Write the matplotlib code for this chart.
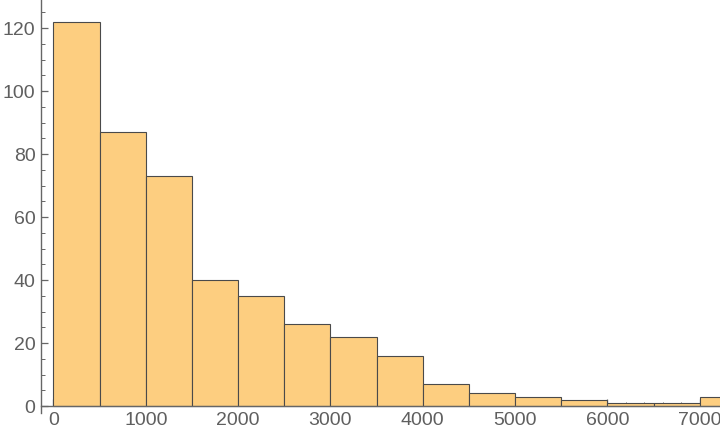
import matplotlib
matplotlib.use("Agg")
import matplotlib.pyplot as plt
from matplotlib.ticker import MultipleLocator
import numpy as np

bin_edges = [0, 500, 1000, 1500, 2000, 2500, 3000, 3500, 4000, 4500, 5000, 5500, 6000, 6500, 7000, 7500]
counts = [122, 87, 73, 40, 35, 26, 22, 16, 7, 4, 3, 2, 1, 1, 3]
x_ticks = [0, 1000, 2000, 3000, 4000, 5000, 6000, 7000]
y_ticks = [0, 20, 40, 60, 80, 100, 120]

plt.rcParams['font.family'] = ['Liberation Sans', 'DejaVu Sans']

fig = plt.figure(figsize=(7.2, 4.38), dpi=100)
ax = fig.add_axes([41/720, (438-413)/438, 1 - 41/720, 413/438])

lefts = np.array(bin_edges[:-1])
widths = np.diff(bin_edges)
ax.bar(lefts, counts, width=widths, align='edge', color='#FDCE80',
       edgecolor='#4a4a4a', linewidth=0.8, zorder=2)

ax.set_xlim(-135, 7220)
ax.set_ylim(-2.2, 128.9)

for s in ['top', 'right']:
    ax.spines[s].set_visible(False)
ax.spines['bottom'].set_position(('data', 0))
ax.spines['left'].set_position(('data', -135))
for s in ['bottom', 'left']:
    ax.spines[s].set_color('#666666')
    ax.spines[s].set_linewidth(1.0)

ax.set_xticks(x_ticks)
ax.set_yticks(y_ticks)
ax.xaxis.set_minor_locator(MultipleLocator(200))
ax.yaxis.set_minor_locator(MultipleLocator(5))
ax.tick_params(axis='both', which='major', direction='in', length=5, width=0.9,
               color='#666666', labelcolor='#5f5f5f', labelsize=14)
ax.tick_params(axis='both', which='minor', direction='in', length=3, width=0.7,
               color='#666666')
ax.tick_params(axis='x', which='major', pad=4)
ax.tick_params(axis='y', which='major', pad=4)

fig.savefig('out.png', dpi=100)
